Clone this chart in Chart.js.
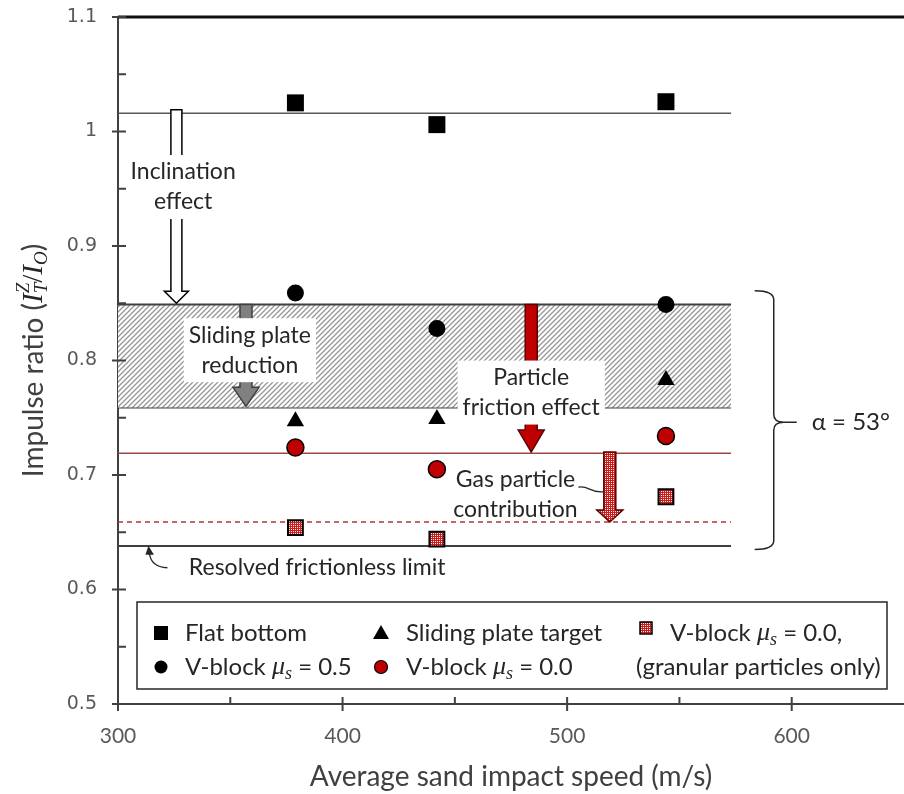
<!DOCTYPE html>
<html>
<head>
<meta charset="utf-8">
<script src="https://cdn.jsdelivr.net/npm/chart.js@4.4.1/dist/chart.umd.min.js"></script>
<style>
  html, body { margin: 0; padding: 0; background: #fff; }
  #wrap { width: 904px; height: 794px; }
</style>
</head>
<body>
<div id="wrap"><canvas id="chart" width="904" height="794"></canvas></div>
<script>
// average sand impact speed (m/s) for the three tests
const speeds = [379, 442, 544];

// impulse ratio per configuration
const flatBottom     = [1.025, 1.006, 1.026];
const slidingPlate   = [0.747, 0.749, 0.783];
const vBlockMu05     = [0.859, 0.828, 0.849];
const vBlockMu00     = [0.724, 0.705, 0.734];
const vBlockGranular = [0.654, 0.644, 0.681];

// horizontal reference levels
const levelStart = 300, levelEnd = 573;
const flatLevel = 1.016;
const bandTop = 0.849, bandBottom = 0.759;
const frictionLevel = 0.719;
const gasLevel = 0.659;
const frictionlessLimit = 0.638;

const xTicks = [300, 400, 500, 600];
const yTicks = [0.5, 0.6, 0.7, 0.8, 0.9, 1, 1.1];

const textColor = '#262626';
const lato = s => `${s}px Lato`;
const serifI = s => `italic ${s}px "Liberation Serif"`;

const baseCtx = document.getElementById('chart').getContext('2d');
function tile(size, draw) {
    const c = document.createElement('canvas');
    c.width = c.height = size;
    draw(c.getContext('2d'));
    return baseCtx.createPattern(c, 'repeat');
}
const hatch = tile(5, g => {
    g.fillStyle = '#fff'; g.fillRect(0, 0, 5, 5);
    g.strokeStyle = '#969696'; g.lineWidth = 1.3;
    g.beginPath();
    g.moveTo(0, 5); g.lineTo(5, 0);
    g.moveTo(-1, 1); g.lineTo(1, -1);
    g.moveTo(4, 6); g.lineTo(6, 4);
    g.stroke();
});
const granular = tile(2, g => {
    g.fillStyle = '#c81e1e'; g.fillRect(0, 0, 2, 2);
    g.fillStyle = '#fbe6e6'; g.fillRect(1, 1, 1, 1);
});

const pts = ys => speeds.map((s, i) => ({ x: s, y: ys[i] }));
const level = (y, color, width, extra) => Object.assign({
    type: 'line',
    data: [{ x: levelStart, y }, { x: levelEnd, y }],
    borderColor: color, borderWidth: width, pointRadius: 0, fill: false, order: 10
}, extra);

const datasets = [
    { label: 'Flat bottom', data: pts(flatBottom), pointStyle: 'rect', pointRadius: 12, backgroundColor: '#000', borderColor: '#000', borderWidth: 0 },
    { label: 'Sliding plate target', data: pts(slidingPlate), pointStyle: 'triangle', pointRadius: 10, backgroundColor: '#000', borderColor: '#000', borderWidth: 0 },
    { label: 'V-block μs = 0.5', data: pts(vBlockMu05), pointStyle: 'circle', pointRadius: 8.5, backgroundColor: '#000', borderColor: '#000', borderWidth: 0 },
    { label: 'V-block μs = 0.0', data: pts(vBlockMu00), pointStyle: 'circle', pointRadius: 8.5, backgroundColor: '#c00000', borderColor: '#000', borderWidth: 1.5 },
    { label: 'V-block μs = 0.0, (granular particles only)', data: pts(vBlockGranular), pointStyle: 'rect', pointRadius: 10.5, backgroundColor: granular, borderColor: '#000', borderWidth: 2 },
    level(flatLevel, '#595959', 1.5),
    level(bandTop, '#404040', 2, { fill: '+1', backgroundColor: hatch }),
    level(bandBottom, '#404040', 2),
    level(frictionLevel, '#a04848', 1.5),
    level(gasLevel, '#b03838', 1.5, { borderDash: [5, 4] }),
    level(frictionlessLimit, '#404040', 2)
];

// annotation placement (data units)
const arrows = [
    { x: 326, from: 1.019, to: 0.850, shaft: 11, head: 24, headLen: 12, fill: '#fff', stroke: '#000' },
    { x: 357, from: 0.849, to: 0.760, shaft: 12, head: 26, headLen: 19, fill: '#808080', stroke: '#404040' },
    { x: 484, from: 0.849, to: 0.720, shaft: 12, head: 26, headLen: 22, fill: '#c00000', stroke: '#5a0000' },
    { x: 519, from: 0.720, to: 0.659, shaft: 12, head: 26, headLen: 12, fill: granular, stroke: '#5a0000' }
];
const notes = [
    { lines: ['Inclination', 'effect'], x: 329, y: 0.9515, box: true },
    { lines: ['Sliding plate', 'reduction'], x: 358.7, y: 0.809, box: true },
    { lines: ['Particle', 'friction effect'], x: 484, y: 0.772, box: true },
    { lines: ['Gas particle', 'contribution'], x: 477, y: 0.683, box: false },
    { lines: ['Resolved frictionless limit'], x: 388.7, y: 0.619, box: false }
];
const brace = { x: 592, top: 0.861, mid: 0.746, bottom: 0.635, label: 'α = 53°' };

function arrowDown(ctx, a, X, Y) {
    const x = X(a.x), top = Y(a.from), tip = Y(a.to);
    const s = a.shaft / 2, h = a.head / 2, yh = tip - a.headLen;
    ctx.beginPath();
    ctx.moveTo(x - s, top); ctx.lineTo(x + s, top); ctx.lineTo(x + s, yh); ctx.lineTo(x + h, yh);
    ctx.lineTo(x, tip); ctx.lineTo(x - h, yh); ctx.lineTo(x - s, yh); ctx.closePath();
    ctx.fillStyle = a.fill; ctx.fill();
    ctx.strokeStyle = a.stroke; ctx.lineWidth = 1.5; ctx.lineJoin = 'miter'; ctx.stroke();
}

function richText(ctx, parts, x, y, dryRun) {
    let cx = x;
    ctx.textAlign = 'left'; ctx.textBaseline = 'middle';
    for (const p of parts) {
        ctx.font = p.font;
        if (!dryRun) { ctx.fillStyle = p.color || textColor; ctx.fillText(p.text, cx, y + (p.dy || 0)); }
        if (!p.stack) cx += ctx.measureText(p.text).width;
    }
    return cx - x;
}
const mu = (rest) => [
    { text: 'V-block ', font: lato(24) },
    { text: 'μ', font: serifI(26) },
    { text: 's', font: serifI(18), dy: 7 },
    { text: rest, font: lato(24) }
];

const decor = {
    id: 'decor',
    afterDatasetsDraw(chart) {
        const { ctx } = chart;
        const X = v => chart.scales.x.getPixelForValue(v);
        const Y = v => chart.scales.y.getPixelForValue(v);
        ctx.save();
        arrows.forEach(a => arrowDown(ctx, a, X, Y));

        const lh = 30;
        notes.forEach(n => {
            ctx.font = lato(23);
            const w = Math.max(...n.lines.map(l => ctx.measureText(l).width));
            const h = n.lines.length * lh, cx = X(n.x), cy = Y(n.y);
            if (n.box) { ctx.fillStyle = '#fff'; ctx.fillRect(cx - w / 2 - 5, cy - h / 2 - 2, w + 10, h + 4); }
            ctx.fillStyle = textColor; ctx.textAlign = 'center'; ctx.textBaseline = 'middle';
            n.lines.forEach((l, i) => ctx.fillText(l, cx, cy - h / 2 + lh * (i + 0.5)));
        });

        ctx.strokeStyle = textColor; ctx.lineWidth = 1.3;
        // leader from gas note to its arrow
        ctx.beginPath();
        ctx.moveTo(X(505), Y(0.6895));
        ctx.bezierCurveTo(X(510), Y(0.691), X(510), Y(0.684), X(516.5), Y(0.6855));
        ctx.stroke();
        // curved pointer to the frictionless limit
        const fx = X(322), fy = Y(0.619), tx = X(314), ty = Y(0.6365);
        ctx.beginPath(); ctx.moveTo(fx, fy); ctx.quadraticCurveTo(tx + 1, fy - 1, tx, ty + 5); ctx.stroke();
        ctx.fillStyle = textColor;
        ctx.beginPath(); ctx.moveTo(tx - 1, ty - 2); ctx.lineTo(tx + 4.5, ty + 7); ctx.lineTo(tx - 4, ty + 7); ctx.closePath(); ctx.fill();

        // brace for the 53 degree cases
        const bx = X(brace.x), yt = Y(brace.top), ym = Y(brace.mid), yb = Y(brace.bottom);
        ctx.lineWidth = 1.5;
        ctx.beginPath();
        ctx.moveTo(bx - 19, yt); ctx.quadraticCurveTo(bx, yt, bx, yt + 9);
        ctx.lineTo(bx, ym - 8); ctx.quadraticCurveTo(bx, ym, bx + 10, ym); ctx.lineTo(bx + 23, ym);
        ctx.moveTo(bx + 10, ym); ctx.quadraticCurveTo(bx, ym, bx, ym + 8);
        ctx.lineTo(bx, yb - 9); ctx.quadraticCurveTo(bx, yb, bx - 19, yb);
        ctx.stroke();
        ctx.font = lato(24); ctx.textAlign = 'left'; ctx.textBaseline = 'middle';
        ctx.fillText(brace.label, bx + 38, ym);
        ctx.restore();
    },
    afterDraw(chart) {
        const { ctx, chartArea: area } = chart;
        const X = v => chart.scales.x.getPixelForValue(v);
        const Y = v => chart.scales.y.getPixelForValue(v);
        ctx.save();
        // top frame
        ctx.strokeStyle = '#111'; ctx.lineWidth = 3;
        ctx.beginPath(); ctx.moveTo(area.left, area.top); ctx.lineTo(904, area.top); ctx.stroke();

        // tick marks: majors cross the axis, minors sit inside
        ctx.strokeStyle = '#404040'; ctx.lineWidth = 2;
        ctx.beginPath();
        for (let v = 300; v < 650; v += 50) {
            const px = X(v), major = v % 100 === 0;
            ctx.moveTo(px, area.bottom - 7); ctx.lineTo(px, area.bottom + (major ? 7 : 0));
        }
        for (let k = 0; k <= 12; k++) {
            const py = Y(0.5 + k * 0.05), major = k % 2 === 0;
            ctx.moveTo(area.left - (major ? 6 : 0), py); ctx.lineTo(area.left + 8, py);
        }
        ctx.stroke();

        // y axis title with formula
        const title = [
            { text: 'Impulse ratio (', font: lato(28), color: '#404040' },
            { text: 'I', font: serifI(29) },
            { text: 'Z', font: serifI(19), dy: -10, stack: true },
            { text: 'T', font: serifI(19), dy: 8 },
            { text: '/', font: '29px "Liberation Serif"' },
            { text: 'I', font: serifI(29) },
            { text: 'O', font: serifI(19), dy: 8 },
            { text: ')', font: lato(28), color: '#404040' }
        ];
        ctx.save();
        ctx.translate(34, (area.top + area.bottom) / 2);
        ctx.rotate(-Math.PI / 2);
        const tw = richText(ctx, title, 0, 0, true);
        richText(ctx, title, -tw / 2, 0);
        ctx.restore();

        // legend
        ctx.fillStyle = '#fff'; ctx.fillRect(137, 602, 750, 87);
        ctx.strokeStyle = '#262626'; ctx.lineWidth = 1.5; ctx.strokeRect(137, 602, 750, 87);
        const r1 = 633, r2 = 667;
        ctx.fillStyle = '#000';
        ctx.fillRect(154, r1 - 7, 14, 14);
        ctx.beginPath(); ctx.moveTo(381, r1 - 8); ctx.lineTo(389, r1 + 6); ctx.lineTo(373, r1 + 6); ctx.closePath(); ctx.fill();
        ctx.beginPath(); ctx.arc(161, r2, 6.5, 0, Math.PI * 2); ctx.fill();
        ctx.beginPath(); ctx.arc(381, r2, 6.5, 0, Math.PI * 2);
        ctx.fillStyle = '#c00000'; ctx.fill(); ctx.strokeStyle = '#000'; ctx.lineWidth = 1.2; ctx.stroke();
        ctx.fillStyle = granular; ctx.fillRect(640, 622, 12, 12);
        ctx.strokeStyle = '#000'; ctx.lineWidth = 1.5; ctx.strokeRect(640, 622, 12, 12);

        richText(ctx, [{ text: 'Flat bottom', font: lato(24) }], 185, r1);
        richText(ctx, [{ text: 'Sliding plate target', font: lato(24) }], 406, r1);
        richText(ctx, mu(' = 0.0,'), 670, r1);
        richText(ctx, mu(' = 0.5'), 185, r2);
        richText(ctx, mu(' = 0.0'), 406, r2);
        richText(ctx, [{ text: '(granular particles only)', font: lato(24) }], 636, r2);
        ctx.restore();
    }
};

Chart.defaults.font.family = 'Lato';

new Chart(baseCtx, {
    type: 'scatter',
    data: { datasets },
    options: {
        responsive: false,
        animation: false,
        events: [],
        layout: { autoPadding: false, padding: { top: 17, right: 0, left: 0, bottom: 0 } },
        plugins: { legend: { display: false }, tooltip: { enabled: false } },
        scales: {
            x: {
                type: 'linear', min: 300, max: 650,
                afterBuildTicks: s => { s.ticks = xTicks.map(v => ({ value: v })); },
                afterFit: s => { s.height = 90; s.paddingLeft = 0; s.paddingRight = 0; },
                grid: { display: false, drawTicks: false },
                border: { color: '#404040', width: 2 },
                ticks: { font: { family: 'Lato', size: 21 }, color: '#595959', padding: 20, maxRotation: 0, autoSkip: false },
                title: { display: true, text: 'Average sand impact speed (m/s)', font: { family: 'Lato', size: 28 }, color: '#404040', padding: { top: 0, bottom: 0 } }
            },
            y: {
                type: 'linear', min: 0.5, max: 1.1,
                afterBuildTicks: s => { s.ticks = yTicks.map(v => ({ value: v })); },
                afterFit: s => { s.width = 118; s.paddingTop = 0; s.paddingBottom = 0; },
                grid: { display: false, drawTicks: false },
                border: { color: '#404040', width: 2 },
                ticks: { callback: v => String(v), font: { family: 'DejaVu Sans', size: 19 }, color: '#595959', padding: 21, autoSkip: false }
            }
        }
    },
    plugins: [decor]
});
</script>
</body>
</html>
